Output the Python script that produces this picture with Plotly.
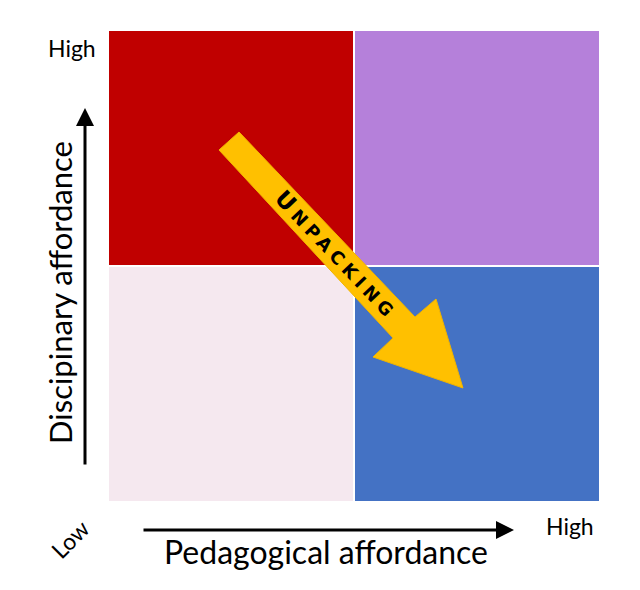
import plotly.graph_objects as go

# Data
pedagogical = ["Low", "High"]
disciplinary = ["Low", "High"]
quadrant_code = [[0, 3],   # Low disciplinary: low ped, high ped
                 [1, 2]]   # High disciplinary: low ped, high ped
quadrant_colors = ["#F5E8EF", "#C00000", "#B580DA", "#4472C4"]
arrow_label = "UNPACKING"

OFF = 8  # page body margin
W, H = 640, 590
PX0, PY0, PW, PH = 108, 30, 492, 472   # plot area in screen pixels
L, T = PX0 - OFF, PY0 - OFF
R, B = W - L - PW, H - T - PH

def px(x, y):
    return ((x - PX0) / PW, 1 - (y - PY0) / PH)

cs = [[i / 3, c] for i, c in enumerate(quadrant_colors)]

fig = go.Figure(go.Heatmap(
    x=pedagogical, y=disciplinary, z=quadrant_code,
    zmin=0, zmax=3, colorscale=cs, showscale=False,
    xgap=2, ygap=2, hoverinfo="skip"))

# Big arrow polygon
pts = [(219, 150), (239, 132), (415, 317), (436, 299), (463, 388), (373, 357), (393, 338)]
path = "M " + " L ".join(f"{px(a,b)[0]:.4f},{px(a,b)[1]:.4f}" for a, b in pts) + " Z"
shapes = [dict(type="path", xref="paper", yref="paper", path=path,
               fillcolor="#FFC000", line=dict(color="#F0B400", width=1))]

font = "Lato, Open Sans, sans-serif"
ann = []
def txt(x, y, s, size, angle=0, **kw):
    xp, yp = px(x, y)
    ann.append(dict(x=xp, y=yp, xref="paper", yref="paper", text=s, showarrow=False,
                    textangle=angle, font=dict(family=font, size=size, color="black"),
                    xanchor="center", yanchor="middle", **kw))

txt(72, 48, "High", 23)
txt(60, 293, "Discipinary affordance", 31, -90)
txt(70, 539, "Low", 23, -45)
txt(326, 551, "Pedagogical affordance", 32)
txt(570, 526, "High", 23)

xp, yp = px(337, 255)
ann.append(dict(x=xp, y=yp, xref="paper", yref="paper", showarrow=False, textangle=46.5,
                text="<span style='letter-spacing:5px'>U<span style='font-size:18px'>NPACKING</span></span>",
                font=dict(family="DejaVu Sans", size=23, color="black", weight="bold"),
                xanchor="center", yanchor="middle"))

# axis arrows
for (x0, y0, x1, y1) in [(85, 466, 85, 108), (142, 530, 514, 530)]:
    hx, hy = px(x1, y1)
    ann.append(dict(x=hx, y=hy, xref="paper", yref="paper", ax=x0 - x1, ay=y0 - y1,
                    axref="pixel", ayref="pixel", showarrow=True, arrowhead=2,
                    arrowsize=1.2, arrowwidth=3, arrowcolor="black", text=""))

fig.update_layout(
    width=W, height=H, margin=dict(l=L, r=R, t=T, b=B),
    paper_bgcolor="white", plot_bgcolor="white",
    xaxis=dict(visible=False, range=[-0.5, 1.5], fixedrange=True),
    yaxis=dict(visible=False, range=[-0.5, 1.5], fixedrange=True),
    shapes=shapes, annotations=ann, showlegend=False)

fig.write_html("out.html")
